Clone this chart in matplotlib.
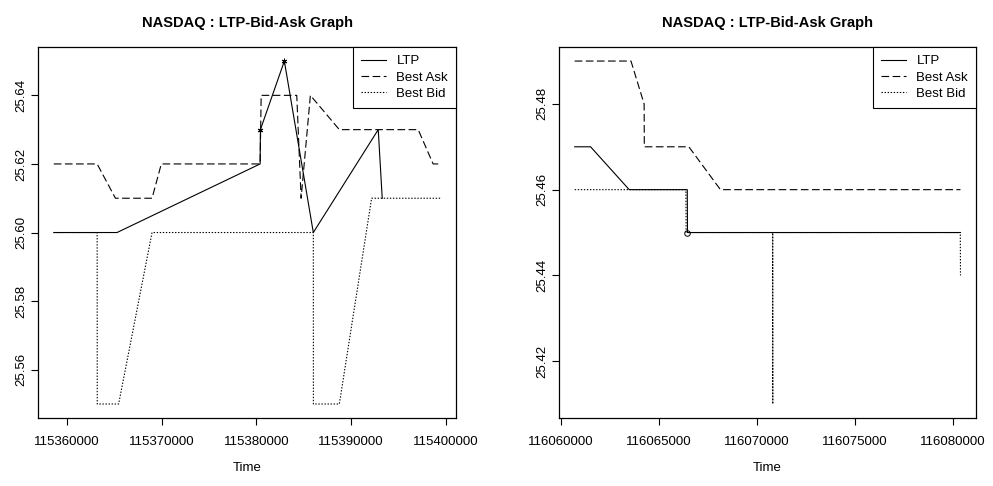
import numpy as np
import matplotlib
matplotlib.use("Agg")
import matplotlib.pyplot as plt

plt.rcParams['font.family'] = ['Liberation Sans', 'DejaVu Sans']
plt.rcParams['lines.scale_dashes'] = False

# left panel : time stamps and prices
left_ltp_t = [115358590, 115365270, 115380390, 115380420, 115382950, 115386010, 115392870, 115393290]
left_ltp_p = [25.60, 25.60, 25.62, 25.63, 25.65, 25.60, 25.63, 25.61]
left_ltp_marks = [3, 4]

left_ask_t = [115358590, 115363170, 115365100, 115368970, 115369950, 115380390, 115380500,
              115384260, 115384720, 115385700, 115388760, 115397090, 115398670, 115399450]
left_ask_p = [25.62, 25.62, 25.61, 25.61, 25.62, 25.62, 25.64,
              25.64, 25.61, 25.64, 25.63, 25.63, 25.62, 25.62]

left_bid_t = [115358590, 115363170, 115363180, 115365440, 115368970, 115386010, 115386020,
              115388760, 115392170, 115399450]
left_bid_p = [25.60, 25.60, 25.55, 25.55, 25.60, 25.60, 25.55, 25.55, 25.61, 25.61]

left_yticks = [25.56, 25.58, 25.60, 25.62, 25.64]
left_xticks = [115360000, 115370000, 115380000, 115390000, 115400000]

# right panel
right_ltp_t = [116060710, 116061520, 116063490, 116066450, 116066460, 116080380]
right_ltp_p = [25.47, 25.47, 25.46, 25.46, 25.45, 25.45]
right_ltp_marks = [4]

right_ask_t = [116060710, 116063580, 116064250, 116064260, 116066530, 116068140, 116080380]
right_ask_p = [25.49, 25.49, 25.48, 25.47, 25.47, 25.46, 25.46]

right_bid_t = [116060710, 116066380, 116066390, 116070800, 116070810, 116070810,
               116080370, 116080380]
right_bid_p = [25.46, 25.46, 25.45, 25.45, 25.41, 25.45, 25.45, 25.44]

right_yticks = [25.42, 25.44, 25.46, 25.48]
right_xticks = [116060000, 116065000, 116070000, 116075000, 116080000]

title = "NASDAQ : LTP-Bid-Ask Graph"

fig = plt.figure(figsize=(9.93, 4.86), dpi=100)
ax1 = fig.add_axes([0.0386, 0.1405, 0.4206, 0.7621])
ax2 = fig.add_axes([0.5632, 0.1405, 0.4196, 0.7621])


def draw(ax, lt, lp, marks, mk, at, ap, bt, bp, xt, yt):
    ax.plot(lt, lp, color='black', lw=0.8, ls='-', label='LTP')
    # trade markers on the LTP line (not in legend)
    ax.plot(np.array(lt)[marks], np.array(lp)[marks], ls='none', color='black',
            marker=mk, markersize=4, markerfacecolor='none', markeredgewidth=0.7)
    ax.plot(at, ap, color='black', lw=0.8, ls=(0, (5.5, 2.5)), label='Best Ask')
    ax.plot(bt, bp, color='black', lw=0.8, ls=(0, (1.0, 1.2)), label='Best Bid')
    ax.margins(x=0.04, y=0.04)
    ax.set_xticks(xt)
    ax.set_xticklabels([str(v) for v in xt])
    ax.set_yticks(yt)
    ax.set_yticklabels(['%.2f' % v for v in yt])
    for lab in ax.get_yticklabels():
        lab.set_rotation(90)
        lab.set_va('center')
    ax.tick_params(direction='out', length=5, width=0.8, labelsize=9.5, colors='black')
    ax.tick_params(axis='x', pad=8)
    ax.tick_params(axis='y', pad=3)
    for s in ax.spines.values():
        s.set_linewidth(0.9)
        s.set_color('black')
    ax.set_title(title, fontsize=10.5, fontweight='bold', pad=15)
    ax.set_xlabel('Time', fontsize=9.5, labelpad=10)
    leg = ax.legend(loc='upper right', borderaxespad=0, fancybox=False, framealpha=1,
                    edgecolor='black', fontsize=9.5, handlelength=1.9, handletextpad=0.8,
                    labelspacing=0.3, borderpad=0.6)
    leg.get_frame().set_linewidth(0.8)


draw(ax1, left_ltp_t, left_ltp_p, left_ltp_marks, (6, 2, 0),
     left_ask_t, left_ask_p, left_bid_t, left_bid_p, left_xticks, left_yticks)
draw(ax2, right_ltp_t, right_ltp_p, right_ltp_marks, 'o',
     right_ask_t, right_ask_p, right_bid_t, right_bid_p, right_xticks, right_yticks)

fig.savefig('out.png', dpi=100)
